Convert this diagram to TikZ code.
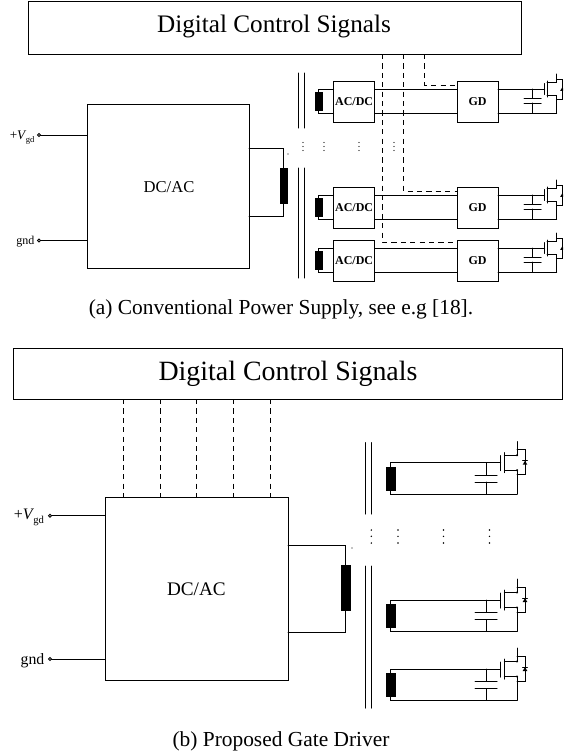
\documentclass[tikz,border=0pt]{standalone}
\usepackage{fontspec}
\setmainfont{Liberation Serif}
\usetikzlibrary{calc}
\newcommand{\fs}[1]{\fontsize{#1}{#1}\selectfont}
\newcommand{\vgd}[1]{+\textit{V}\kern-0.05em\raisebox{-0.25em}{\fontsize{#1}{#1}\selectfont gd}}
\tikzset{
  wire/.style={line width=0.5pt,line cap=round,line join=miter},
  ctrl/.style={wire,dash pattern=on 2.6pt off 2.1pt,line cap=butt},
  box/.style={draw,line width=0.5pt,inner sep=0pt,outer sep=0pt,fill=white},
  core/.style={fill=black,draw=black,line width=0.2pt,inner sep=0pt,outer sep=0pt},
  term/.style={draw,circle,line width=0.4pt,inner sep=0pt,minimum size=1.5pt,outer sep=0pt,fill=white},
  lbl/.style={inner sep=0pt,outer sep=0pt,anchor=base east},
  captxt/.style={inner sep=0pt,outer sep=0pt,anchor=base},
}
% name, x1,y1,x2,y2, style, text
\newcommand{\bx}[7]{%
  \pgfmathsetlengthmacro{\bw}{((#4)-(#2))*0.5pt}%
  \pgfmathsetlengthmacro{\bh}{((#5)-(#3))*0.5pt}%
  \node[#6,minimum width=\bw,minimum height=\bh] (#1) at ({((#2)+(#4))/2},{((#3)+(#5))/2}) {#7};}
\newcommand{\dotcol}[5]{\foreach \xx in {#1}{\foreach \yy in {#2,#3,#4}{\fill (\xx,\yy) circle (#5);}}}
% rowA: index, g
\newcommand{\rowa}[2]{%
  \bx{ind#1}{315}{#2+3}{322}{#2+21}{core}{}
  \bx{acdc#1}{333.5}{#2-8}{374.7}{#2+33}{box}{\fs{6}\bfseries AC/DC}
  \bx{gd#1}{457}{#2-8}{498}{#2+33}{box}{\fs{6}\bfseries GD}
  \coordinate (tg#1) at (544.5,#2);
  \coordinate (bt#1) at (556.7,#2+24);
  \draw[wire] (ind#1.north) -- (ind#1.north |- tg#1) -- (acdc#1.west |- tg#1);
  \draw[wire] (ind#1.south) -- (ind#1.south |- bt#1) -- (acdc#1.west |- bt#1);
  \draw[wire] (acdc#1.east |- tg#1) -- (gd#1.west |- tg#1);
  \draw[wire] (acdc#1.east |- bt#1) -- (gd#1.west |- bt#1);
  \draw[wire] (gd#1.east |- tg#1) -- (tg#1);
  \draw[wire] (gd#1.east |- bt#1) -- (bt#1);
  \coordinate (ca#1) at (532.7,#2+9);
  \coordinate (cb#1) at (532.7,#2+14);
  \draw[wire] (ca#1 |- tg#1) -- (ca#1);
  \draw[wire] (cb#1) -- (cb#1 |- bt#1);
  \draw[wire] ($(ca#1)+(-8.5,0)$) -- ($(ca#1)+(8.5,0)$);
  \draw[wire] ($(cb#1)+(-8.5,0)$) -- ($(cb#1)+(8.5,0)$);
  \draw[wire] (544.5,#2-5.5) -- (544.5,#2+5.5);
  \draw[wire] (547,#2-8) -- (547,#2+8);
  \draw[wire] (556.7,#2-15) -- (556.7,#2-6.5) -- (547,#2-6.5);
  \draw[wire] (547,#2+6.5) -- (556.7,#2+6.5) -- (bt#1);
  \draw[wire] (556.7,#2-10) -- (562.3,#2-10) -- (562.3,#2+10) -- (556.7,#2+10);
  \fill (560.2,#2+1.8) -- (564.4,#2+1.8) -- (562.3,#2-1.8) -- cycle;
}
% rowB: index, g
\newcommand{\rowb}[2]{%
  \bx{sec#1}{386}{#2+4.5}{395.5}{#2+27.5}{core}{}
  \coordinate (tg#1) at (500.5,#2);
  \coordinate (bt#1) at (517,#2+31.3);
  \draw[wire] (sec#1.north) -- (sec#1.north |- tg#1) -- (tg#1);
  \draw[wire] (sec#1.south) -- (sec#1.south |- bt#1) -- (bt#1);
  \coordinate (ca#1) at (486,#2+12.3);
  \coordinate (cb#1) at (486,#2+19.5);
  \draw[wire] (ca#1 |- tg#1) -- (ca#1);
  \draw[wire] (cb#1) -- (cb#1 |- bt#1);
  \draw[wire] ($(ca#1)+(-11,0)$) -- ($(ca#1)+(11,0)$);
  \draw[wire] ($(cb#1)+(-11,0)$) -- ($(cb#1)+(11,0)$);
  \draw[wire] (500.5,#2-7) -- (500.5,#2+8);
  \draw[wire] (504.3,#2-10) -- (504.3,#2+10);
  \draw[wire] (517,#2-21) -- (517,#2-7.5) -- (504.3,#2-7.5);
  \draw[wire] (504.3,#2+7.5) -- (517,#2+7.5) -- (bt#1);
  \draw[wire] (517,#2-13) -- (525,#2-13) -- (525,#2+12) -- (517,#2+12);
  \fill (522.7,#2+2) -- (527.3,#2+2) -- (525,#2-2) -- cycle;
  \draw[wire] (522.7,#2-2) -- (527.3,#2-2);
  \fill (517,#2-7.5) circle (0.6pt);
  \fill (517,#2+7.5) circle (0.6pt);
}
\begin{document}
\begin{tikzpicture}[x=0.5pt,y=-0.5pt]
\useasboundingbox (0,0) rectangle (563,755);
\clip (0,0) rectangle (563,755);
% ---------- (a)
\bx{topa}{28}{1.5}{521.7}{54}{box}{}
\node[captxt] (topatxt) at (274,32.5) {\fs{12.6}Digital Control Signals};
\bx{dca}{87}{104}{249}{268}{box}{}
\node[captxt] (dcatxt) at (169,192) {\fs{8.3}DC/AC};
\node[term] (ta1) at (39,135) {};
\node[term] (ta2) at (39,240.5) {};
\draw[wire] (ta1) -- (dca.west |- ta1);
\draw[wire] (ta2) -- (dca.west |- ta2);
\node[lbl] (la1) at (34.5,139) {\fs{6.6}\vgd{4.3}};
\node[lbl] (la2) at (34.5,244) {\fs{6}gnd};
\bx{pria}{280}{168}{287}{203}{core}{}
\coordinate (pa1) at (249,148);
\coordinate (pa2) at (249,216);
\draw[wire] (pa1) -- (pa1 -| pria.north) -- (pria.north);
\draw[wire] (pa2) -- (pa2 -| pria.south) -- (pria.south);
\fill (288,154) circle (0.35pt);
\draw[wire] (298.5,73) -- (298.5,128);
\draw[wire] (304,73) -- (304,128);
\draw[wire] (298.5,168) -- (298.5,278);
\draw[wire] (304,168) -- (304,278);
\dotcol{303,324,359,394}{142.5}{146.5}{150.5}{0.35pt}
\rowa{1}{89}
\rowa{2}{195}
\rowa{3}{248}
\coordinate (da) at (424.5,85);
\coordinate (db) at (403.5,191);
\coordinate (dc) at (382,242);
\draw[ctrl] (topa.south -| da) -- (da) -- (da -| gd1.west);
\draw[ctrl] (topa.south -| db) -- (db) -- (db -| gd2.west);
\draw[ctrl] (topa.south -| dc) -- (dc) -- (dc -| gd3.west);
\node[captxt] (capa) at (281,314.7) {\fs{10.7}(a) Conventional Power Supply, see e.g [18].};
% ---------- (b)
\bx{topb}{13.5}{348}{562.4}{399}{box}{}
\node[captxt] (topbtxt) at (288,380) {\fs{13.95}Digital Control Signals};
\bx{dcb}{105}{497}{288}{680}{box}{}
\node[captxt] (dcbtxt) at (196.4,595) {\fs{9.6}DC/AC};
\foreach \i/\xx in {1/123.5,2/160,3/196.5,4/233,5/270}{
  \coordinate (dd\i) at (\xx,497);
  \draw[ctrl] (topb.south -| dd\i) -- (dd\i);
}
\node[term] (tb1) at (50,515.7) {};
\node[term] (tb2) at (50,659) {};
\draw[wire] (tb1) -- (dcb.west |- tb1);
\draw[wire] (tb2) -- (dcb.west |- tb2);
\node[lbl] (lb1) at (44,519) {\fs{8}\vgd{5.3}};
\node[lbl] (lb2) at (44.3,664) {\fs{7.9}gnd};
\bx{prib}{341}{565}{350}{610}{core}{}
\coordinate (pb1) at (288,545);
\coordinate (pb2) at (288,632);
\draw[wire] (pb1) -- (pb1 -| prib.north) -- (prib.north);
\draw[wire] (pb2) -- (pb2 -| prib.south) -- (prib.south);
\fill (352,548) circle (0.35pt);
\draw[wire] (365,442.7) -- (365,514);
\draw[wire] (371.7,442.7) -- (371.7,514);
\draw[wire] (365,566) -- (365,708);
\draw[wire] (371.7,566) -- (371.7,708);
\dotcol{371.3,398,443.5,489.5}{530}{536.3}{543}{0.4pt}
\rowb{4}{462.7}
\rowb{5}{600}
\rowb{6}{669}
\node[captxt] (capb) at (281,746.5) {\fs{10.7}(b) Proposed Gate Driver};
\end{tikzpicture}
\end{document}
